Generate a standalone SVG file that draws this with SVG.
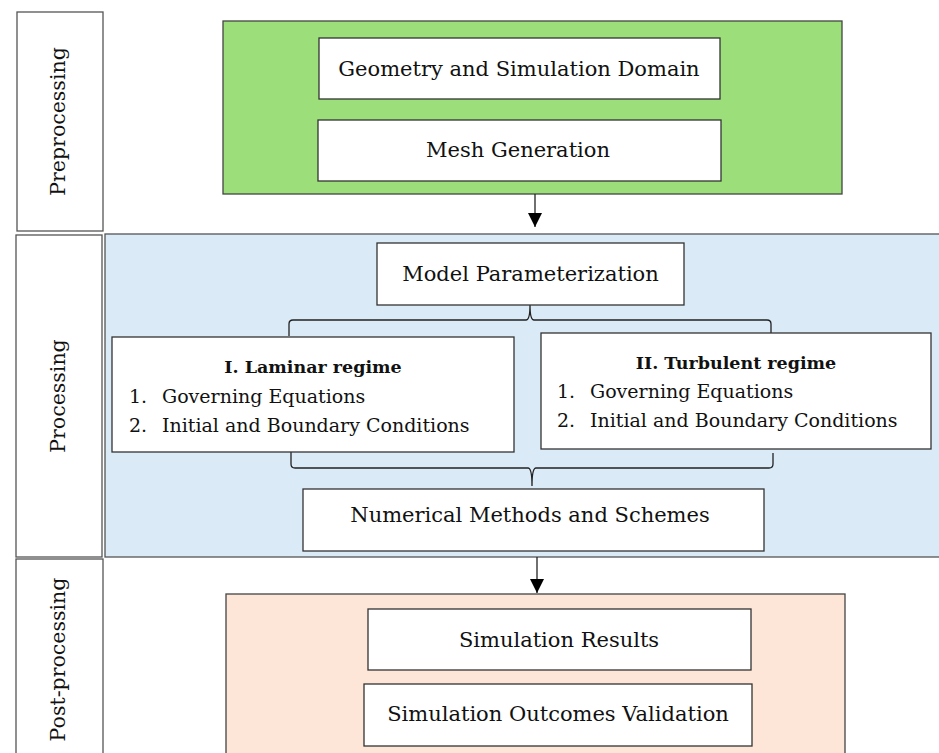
<svg xmlns="http://www.w3.org/2000/svg" width="939" height="753" viewBox="0 0 939 753">
<defs>
<marker id="ah" markerWidth="14" markerHeight="14" refX="14" refY="7" orient="auto" markerUnits="userSpaceOnUse">
<path d="M0,0 L14,7 L0,14 Z" fill="#000"/>
</marker>
<style>
.side{fill:#fff;stroke:#555;stroke-width:1.3}
.box{fill:#fff;stroke:#333;stroke-width:1.3}
.t{font-family:"DejaVu Serif","Liberation Serif",serif;font-size:21px;fill:#111;text-anchor:middle}
.s{font-family:"DejaVu Serif","Liberation Serif",serif;font-size:20.5px;fill:#111;text-anchor:middle}
.l{font-family:"DejaVu Serif","Liberation Serif",serif;font-size:19px;fill:#111}
.h{font-family:"DejaVu Serif","Liberation Serif",serif;font-size:17.5px;font-weight:bold;fill:#111;text-anchor:middle}
.conn{fill:none;stroke:#222;stroke-width:1.3}
</style>
</defs>
<rect x="0" y="0" width="939" height="753" fill="#fff"/>

<g id="preprocessing">
<rect class="side" x="17" y="12" width="86" height="219"/>
<text class="s" transform="translate(65,121.5) rotate(-90)">Preprocessing</text>
<rect x="223" y="21" width="619" height="173" fill="#9cde7a" stroke="#444" stroke-width="1.3"/>
</g>
<g id="geometry">
<rect class="box" x="319" y="38" width="401" height="61"/>
<text class="t" x="519" y="76">Geometry and Simulation Domain</text>
</g>
<g id="mesh">
<rect class="box" x="318" y="120" width="403" height="61"/>
<text class="t" x="518" y="157">Mesh Generation</text>
</g>

<g id="processing">
<rect class="side" x="16" y="235" width="86" height="322"/>
<text class="s" transform="translate(65,396) rotate(-90)">Processing</text>
<rect x="105" y="234" width="840" height="323" fill="#dbeaf7" stroke="#555" stroke-width="1.3"/>
</g>

<g id="connectors">
<line class="conn" x1="535" y1="194" x2="535" y2="227" marker-end="url(#ah)"/>
<line class="conn" x1="537" y1="557" x2="537" y2="593" marker-end="url(#ah)"/>
<path class="conn" d="M289,336 L289,324 Q289,320 293,320 L526,320 Q530,320 530,305 Q530,320 534,320 L767,320 Q771,320 771,324 L771,335"/>
<path class="conn" d="M291,451 L291,464 Q291,468 295,468 L528,468 Q532,468 532,486 Q532,468 536,468 L769,468 Q773,468 773,464 L773,453"/>
</g>

<g id="model">
<rect class="box" x="377" y="243" width="307" height="62"/>
<text class="t" x="530.5" y="281">Model Parameterization</text>
</g>
<g id="laminar">
<rect class="box" x="112" y="337" width="402" height="115"/>
<text class="h" x="313" y="373">I. Laminar regime</text>
<text class="l" x="129" y="403">1.</text>
<text class="l" x="162" y="403">Governing Equations</text>
<text class="l" x="129" y="432">2.</text>
<text class="l" x="162" y="432">Initial and Boundary Conditions</text>
</g>
<g id="turbulent">
<rect class="box" x="541" y="333" width="390" height="116"/>
<text class="h" x="736" y="369">II. Turbulent regime</text>
<text class="l" x="557" y="398">1.</text>
<text class="l" x="590" y="398">Governing Equations</text>
<text class="l" x="557" y="427">2.</text>
<text class="l" x="590" y="427">Initial and Boundary Conditions</text>
</g>
<g id="numerical">
<rect class="box" x="303" y="489" width="461" height="62"/>
<text class="t" x="530" y="522">Numerical Methods and Schemes</text>
</g>

<g id="postprocessing">
<rect class="side" x="16" y="559" width="87" height="210"/>
<text class="s" transform="translate(65,659.5) rotate(-90)">Post-processing</text>
<rect x="226" y="594" width="619" height="175" fill="#fde5d7" stroke="#444" stroke-width="1.3"/>
</g>
<g id="results">
<rect class="box" x="368" y="609" width="383" height="61"/>
<text class="t" x="559" y="647">Simulation Results</text>
</g>
<g id="validation">
<rect class="box" x="364" y="684" width="388" height="62"/>
<text class="t" x="558" y="721">Simulation Outcomes Validation</text>
</g>
</svg>
